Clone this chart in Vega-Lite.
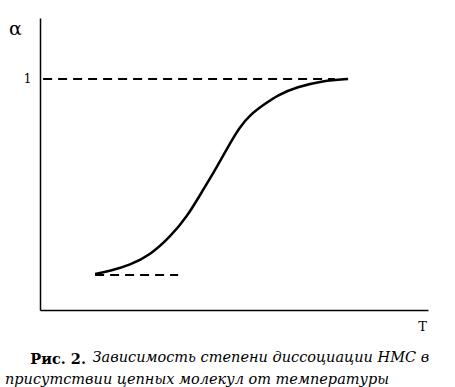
{
  "$schema": "https://vega.github.io/schema/vega-lite/v6.json",
  "width": 388,
  "height": 292,
  "autosize": {"type": "none"},
  "padding": {"left": 40, "top": 18, "right": 27, "bottom": 77},
  "background": "white",
  "config": {"view": {"stroke": null}},
  "title": {
    "text": "\u200b\u00a0\u00a0\u00a0\u00a0\u00a0Рис. 2.",
    "subtitle": ["\u200b\u00a0\u00a0\u00a0\u00a0\u00a0\u00a0\u00a0\u00a0\u00a0\u00a0\u00a0\u00a0\u00a0\u00a0\u00a0\u00a0\u00a0\u00a0\u00a0Зависимость степени диссоциации НМС в", "присутствии цепных молекул от температуры"],
    "orient": "bottom",
    "anchor": "start",
    "frame": "group",
    "dx": -35,
    "offset": 20,
    "font": "DejaVu Serif",
    "fontSize": 14.5,
    "fontWeight": "bold",
    "color": "black",
    "subtitleFont": "DejaVu Serif",
    "subtitleFontSize": 14.5,
    "subtitleFontStyle": "italic",
    "subtitleColor": "black",
    "subtitlePadding": -17,
    "subtitleLineHeight": 22
  },
  "datasets": {
    "curve": [
      {"T": 14.2, "alpha": 0.156},
      {"T": 18.0, "alpha": 0.169},
      {"T": 23.2, "alpha": 0.195},
      {"T": 28.4, "alpha": 0.238},
      {"T": 33.5, "alpha": 0.316},
      {"T": 37.9, "alpha": 0.403},
      {"T": 42.0, "alpha": 0.519},
      {"T": 45.6, "alpha": 0.619},
      {"T": 49.0, "alpha": 0.723},
      {"T": 51.5, "alpha": 0.792},
      {"T": 54.1, "alpha": 0.844},
      {"T": 57.5, "alpha": 0.887},
      {"T": 61.3, "alpha": 0.931},
      {"T": 66.2, "alpha": 0.965},
      {"T": 72.9, "alpha": 0.993},
      {"T": 79.4, "alpha": 1.0}
    ],
    "upper": [
      {"T": 0.8, "alpha": 1.0},
      {"T": 76.0, "alpha": 1.0}
    ],
    "lower": [
      {"T": 14.2, "alpha": 0.152},
      {"T": 35.6, "alpha": 0.152}
    ]
  },
  "encoding": {
    "x": {
      "field": "T", "type": "quantitative",
      "scale": {"domain": [0, 100], "nice": false, "zero": false},
      "axis": {
        "values": [], "grid": false, "ticks": false, "labels": false,
        "domainColor": "black", "domainWidth": 1.5,
        "title": "T", "titleFont": "DejaVu Serif", "titleFontSize": 13, "titleFontWeight": "normal",
        "titleColor": "black", "titleX": 382, "titleY": 16, "titleAlign": "center", "titleBaseline": "middle"
      }
    },
    "y": {
      "field": "alpha", "type": "quantitative",
      "scale": {"domain": [0, 1.264], "nice": false, "zero": false},
      "axis": {
        "values": [1], "grid": false, "ticks": false, "labelPadding": 9,
        "labelFont": "DejaVu Serif", "labelFontSize": 12, "labelColor": "black",
        "domainColor": "black", "domainWidth": 1.5,
        "title": "α", "titleFont": "DejaVu Serif", "titleFontSize": 19, "titleFontWeight": "normal",
        "titleColor": "black", "titleAngle": 0, "titleX": -25, "titleY": 10, "titleAlign": "center", "titleBaseline": "middle"
      }
    }
  },
  "layer": [
    {
      "data": {"name": "upper"},
      "mark": {"type": "line", "color": "black", "strokeWidth": 2, "strokeDash": [9, 6]}
    },
    {
      "data": {"name": "lower"},
      "mark": {"type": "line", "color": "black", "strokeWidth": 2, "strokeDash": [9, 6]}
    },
    {
      "data": {"name": "curve"},
      "mark": {"type": "line", "color": "black", "strokeWidth": 2.5, "interpolate": "basis"}
    }
  ]
}
